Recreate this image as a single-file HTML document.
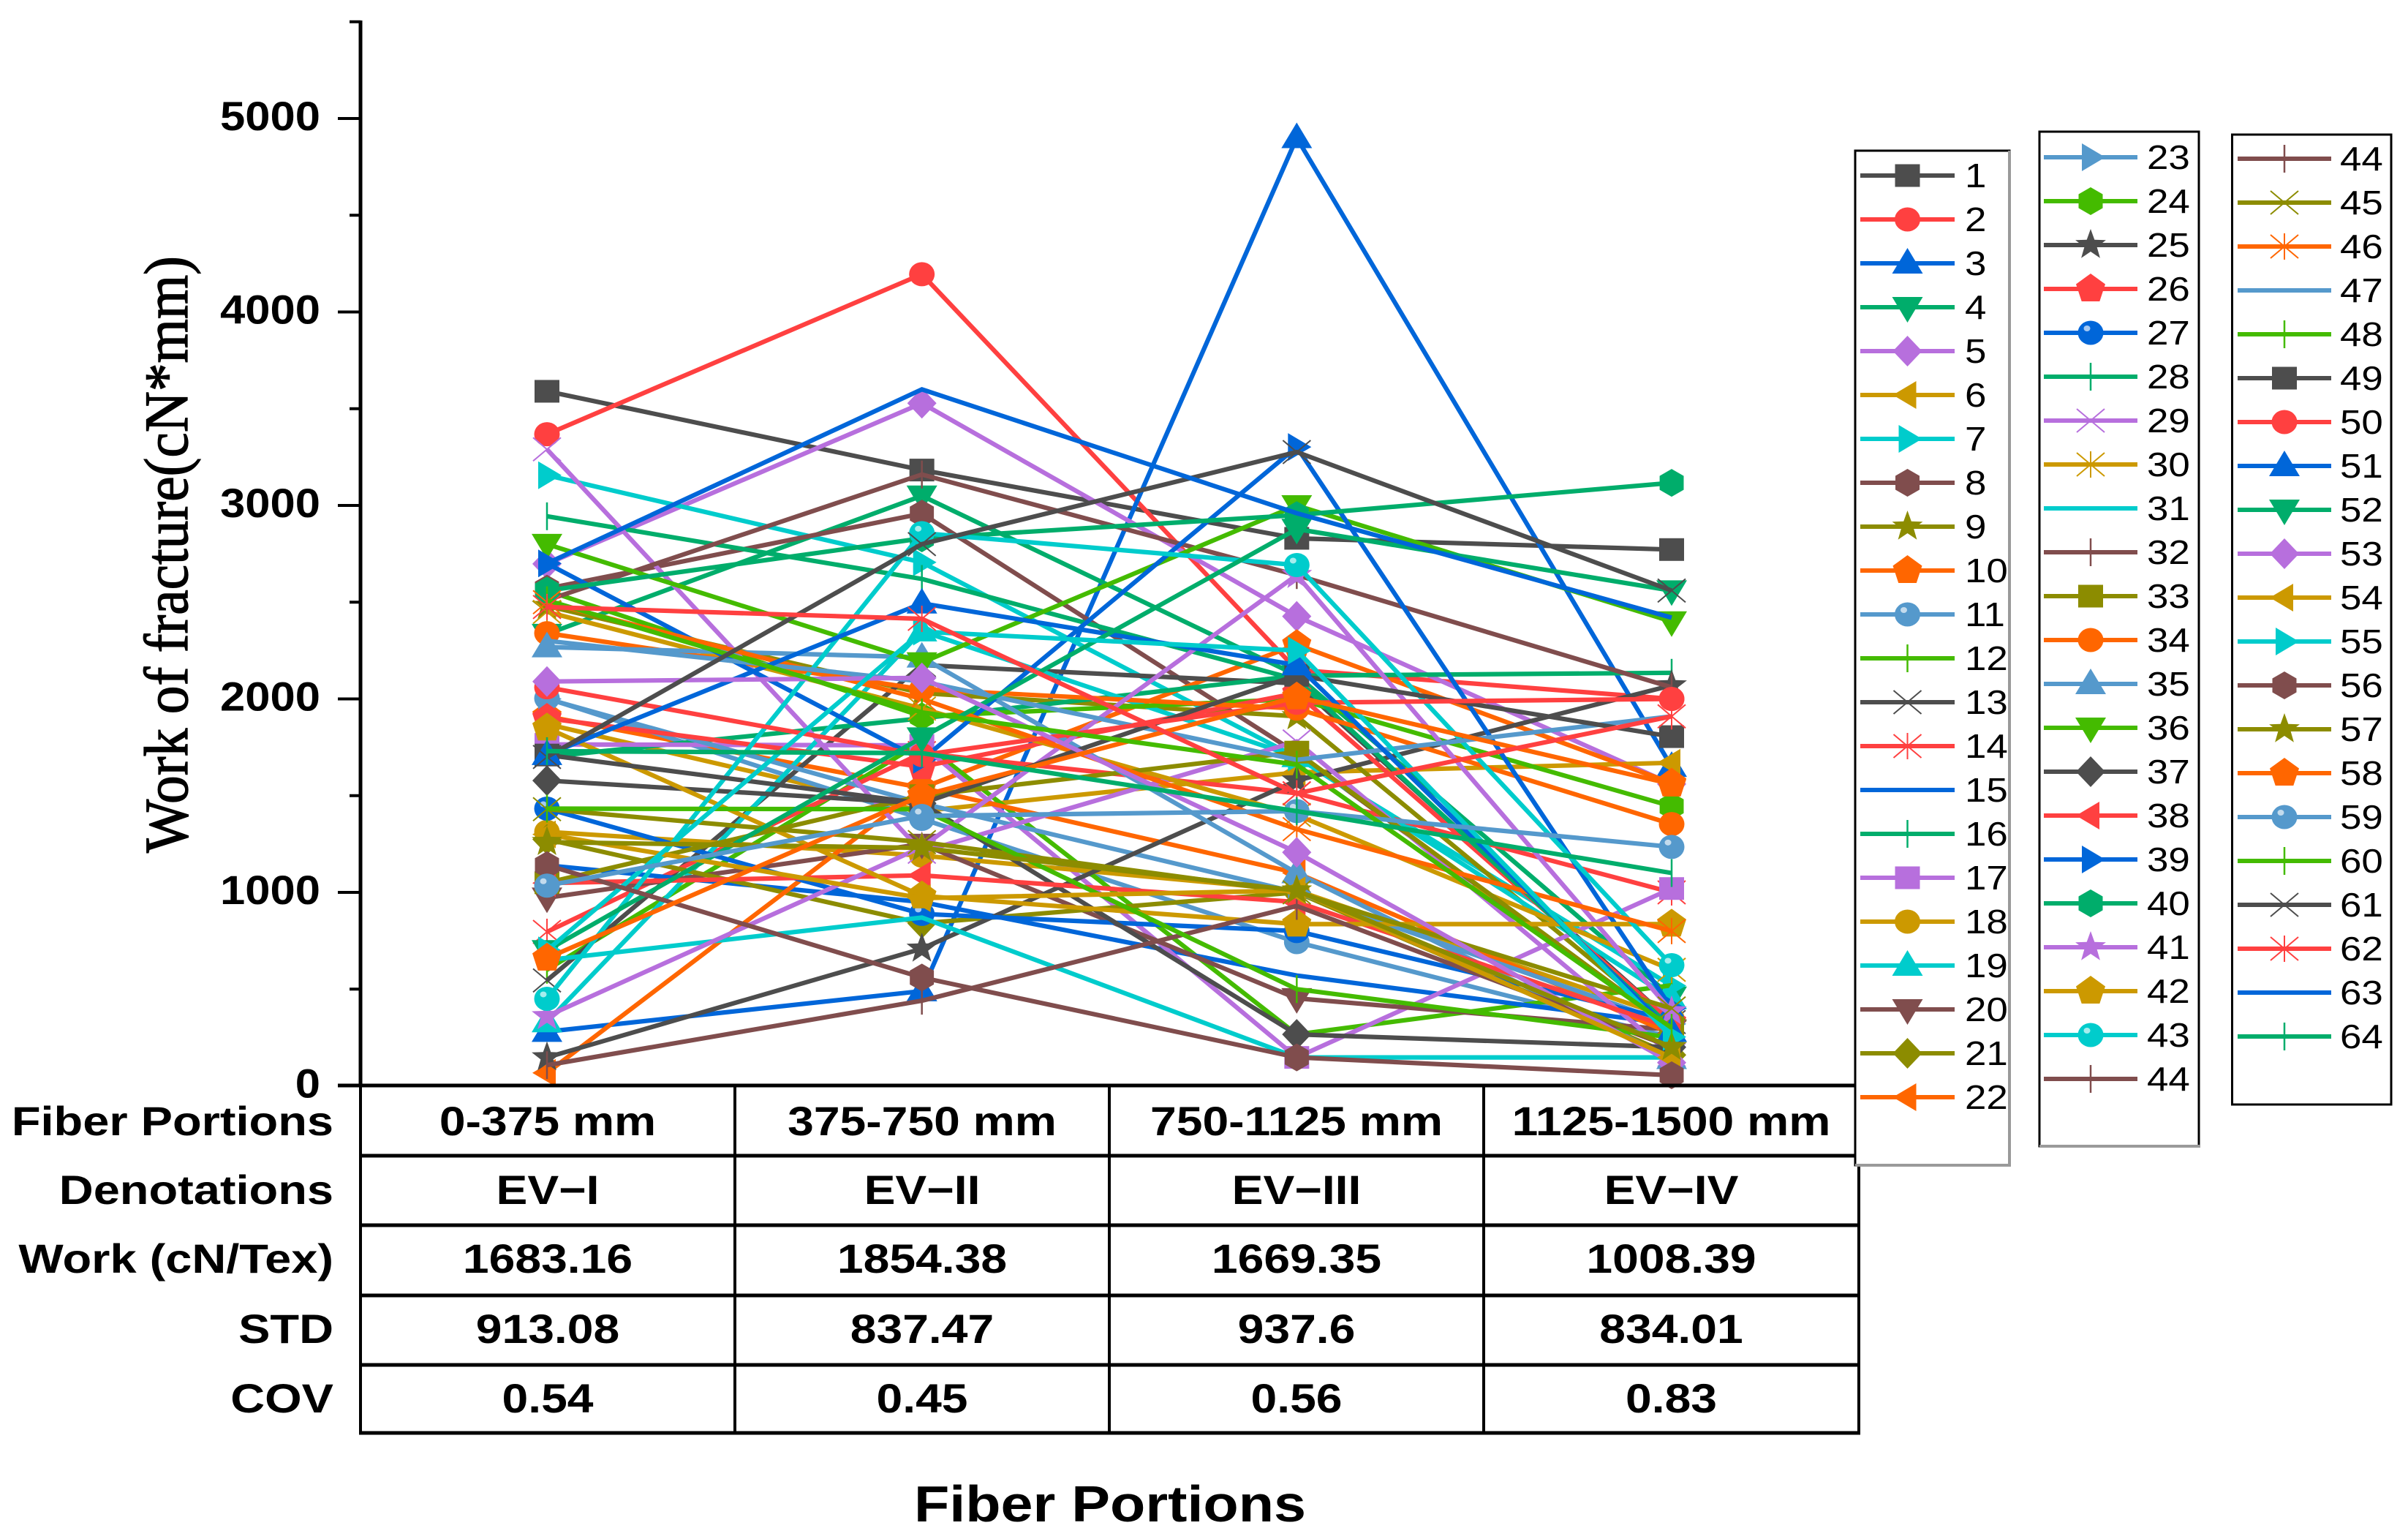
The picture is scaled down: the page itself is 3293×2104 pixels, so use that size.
<!DOCTYPE html>
<html>
<head>
<meta charset="utf-8">
<title>Work of fracture by fiber portion</title>
<style>
html,body{margin:0;padding:0;background:#fff;}
svg{display:block;}
</style>
</head>
<body>
<svg id="chart" xmlns="http://www.w3.org/2000/svg" width="3293" height="2104" viewBox="0 0 3293 2104">
<rect x="0" y="0" width="3293" height="2104" fill="#ffffff"/>
</svg>
<script>
const categories = ['0-375 mm', '375-750 mm', '750-1125 mm', '1125-1500 mm'];
const denotations = ['EV\u2212I', 'EV\u2212II', 'EV\u2212III', 'EV\u2212IV'];
const workValues = ['1683.16', '1854.38', '1669.35', '1008.39'];
const stdValues = ['913.08', '837.47', '937.6', '834.01'];
const covValues = ['0.54', '0.45', '0.56', '0.83'];
const rowLabels = ['Fiber Portions', 'Denotations', 'Work (cN/Tex)', 'STD', 'COV'];
const majorTicks = [0, 1000, 2000, 3000, 4000, 5000];
const minorTicks = [500, 1500, 2500, 3500, 4500, 5500];

const s1 = [3590, 3183, 2830, 2772];
const s2 = [3368, 4195, 2150, 2000];
const s3 = [280, 490, 4900, 1650];
const s4 = [2335, 3050, 2122, 460];
const s5 = [2698, 3528, 2427, 1560];
const s6 = [1870, 1420, 1620, 1670];
const s7 = [3156, 2706, 1698, 518];
const s8 = [2570, 2958, 1720, 300];
const s9 = [2480, 2030, 1910, 310];
const s10 = [1910, 1540, 2281, 1565];
const s11 = [2003, 1380, 743, 250];
const s12 = [600, 1778, 266, 520];
const s13 = [545, 2175, 2080, 330];
const s14 = [796, 1720, 1512, 1000];
const s15 = [1140, 950, 570, 320];
const s16 = [1700, 1900, 2120, 2135];
const s17 = [1765, 1760, 147, 1020];
const s18 = [1313, 1190, 1010, 350];
const s19 = [330, 2350, 1700, 450];
const s20 = [972, 1250, 452, 290];
const s21 = [1274, 840, 1000, 160];
const s22 = [67, 1540, 1100, 270];
const s23 = [2000, 1460, 1000, 320];
const s24 = [2560, 1910, 2000, 1445];
const s25 = [147, 709, 1578, 2070];
const s26 = [1900, 1650, 2030, 330];
const s27 = [1433, 889, 800, 340];
const s28 = [2944, 2620, 2100, 300];
const s29 = [3290, 1210, 1780, 160];
const s30 = [2450, 1950, 1400, 600];
const s31 = [650, 870, 147, 147];
const s32 = [2510, 3160, 2640, 2060];
const s33 = [1050, 1500, 1725, 300];
const s34 = [2340, 2050, 1950, 1353];
const s35 = [2268, 2215, 1100, 140];
const s36 = [2800, 2188, 3000, 2400];
const s37 = [1578, 1460, 266, 200];
const s38 = [1048, 1088, 950, 300];
const s39 = [2700, 1685, 3302, 400];
const s40 = [2560, 2830, 2950, 3117];
const s41 = [360, 1234, 2640, 385];
const s42 = [1850, 982, 836, 836];
const s43 = [450, 2857, 2692, 624];
const s44 = [107, 440, 930, 200];
const s45 = [1430, 1260, 1000, 400];
const s46 = [2500, 2000, 1327, 800];
const s47 = [2300, 2090, 1685, 1910];
const s48 = [1433, 1430, 500, 250];
const s49 = [1710, 1460, 2122, 1805];
const s50 = [2060, 1710, 1980, 2000];
const s51 = [1711, 2494, 2175, 280];
const s52 = [700, 1800, 2878, 2560];
const s53 = [2090, 2109, 1207, 120];
const s54 = [1300, 970, 1010, 147];
const s55 = [700, 2348, 2250, 253];
const s56 = [1141, 560, 147, 55];
const s57 = [1260, 1230, 1010, 200];
const s58 = [660, 1500, 2010, 1560];
const s59 = [1035, 1395, 1420, 1235];
const s60 = [2510, 1930, 1660, 300];
const s61 = [1700, 2800, 3276, 2560];
const s62 = [2475, 2414, 1512, 1910];
const s63 = [2700, 3600, 2960, 2420];
const s64 = [1730, 1720, 1420, 1100];
const allSeries = [s1,s2,s3,s4,s5,s6,s7,s8,s9,s10,s11,s12,s13,s14,s15,s16,s17,s18,s19,s20,s21,s22,s23,s24,s25,s26,s27,s28,s29,s30,s31,s32,s33,s34,s35,s36,s37,s38,s39,s40,s41,s42,s43,s44,s45,s46,s47,s48,s49,s50,s51,s52,s53,s54,s55,s56,s57,s58,s59,s60,s61,s62,s63,s64];

const legendCol1 = [1,2,3,4,5,6,7,8,9,10,11,12,13,14,15,16,17,18,19,20,21,22];
const legendCol2 = [23,24,25,26,27,28,29,30,31,32,33,34,35,36,37,38,39,40,41,42,43,44];
const legendCol3 = [44,45,46,47,48,49,50,51,52,53,54,55,56,57,58,59,60,61,62,63,64];

const palette = ['#4d4d4d','#ff4040','#0066d9','#00ad6b','#b76fdd','#cc9900','#00cccc','#804d4d','#8c8c00','#ff6600','#5599cc','#44bb00'];
const markerCycle = ['square','circle','up','down','diamond','left','right','hexagon','star','pentagon','sphere','bar','x','asterisk','none','bar'];

const NS = 'http://www.w3.org/2000/svg';
const svg = document.getElementById('chart');
function xScale(i){ return 748 + i * 512.67; }
function yScale(v){ return 1484.5 - v * 0.2645; }
function make(tag, parent){ const e = document.createElementNS(NS, tag); parent.appendChild(e); return e; }
function setAll(e, o){ for (const k in o) e.setAttribute(k, o[k]); return e; }
function poly(parent, pts, color){
  const p = make('polygon', parent);
  setAll(p, {points: pts.map(q => q[0].toFixed(1)+','+q[1].toFixed(1)).join(' '), fill: color});
  return p;
}
function radial(cx, cy, r, n, start){
  const pts = [];
  for (let i = 0; i < n; i++){ const a = start + i * 2 * Math.PI / n; pts.push([cx + r*Math.cos(a), cy + r*Math.sin(a)]); }
  return pts;
}
function strokeLine(parent, x1, y1, x2, y2, color, w){
  const l = make('line', parent);
  setAll(l, {x1, y1, x2, y2, stroke: color, 'stroke-width': w});
  return l;
}
function drawMarker(parent, kind, x, y, color){
  if (kind === 'square'){ const r = make('rect', parent); setAll(r, {x: x-17, y: y-15.5, width: 34, height: 31, fill: color}); }
  else if (kind === 'circle'){ const c = make('ellipse', parent); setAll(c, {cx: x, cy: y, rx: 17.5, ry: 16.5, fill: color}); }
  else if (kind === 'up'){ poly(parent, [[x, y-21],[x+21, y+14],[x-21, y+14]], color); }
  else if (kind === 'down'){ poly(parent, [[x, y+21],[x+21, y-14],[x-21, y-14]], color); }
  else if (kind === 'diamond'){ poly(parent, [[x, y-21],[x+20, y],[x, y+21],[x-20, y]], color); }
  else if (kind === 'left'){ poly(parent, [[x-20, y],[x+12, y-19],[x+12, y+19]], color); }
  else if (kind === 'right'){ poly(parent, [[x+20, y],[x-12, y-19],[x-12, y+19]], color); }
  else if (kind === 'hexagon'){ poly(parent, radial(x, y, 19, 6, Math.PI/2), color); }
  else if (kind === 'pentagon'){ poly(parent, radial(x, y, 21, 5, -Math.PI/2), color); }
  else if (kind === 'star'){
    const pts = [];
    for (let i = 0; i < 10; i++){ const r = i % 2 ? 9 : 22; const a = -Math.PI/2 + i*Math.PI/5; pts.push([x + r*Math.cos(a), y + r*Math.sin(a)]); }
    poly(parent, pts, color);
  }
  else if (kind === 'sphere'){
    const c = make('ellipse', parent); setAll(c, {cx: x, cy: y, rx: 17.5, ry: 16.5, fill: color});
    const h = make('ellipse', parent); setAll(h, {cx: x-5, cy: y-6, rx: 4.5, ry: 4, fill: '#ffffff', opacity: 0.65});
  }
  else if (kind === 'bar'){ strokeLine(parent, x, y-19, x, y+19, color, 2.5); }
  else if (kind === 'x' || kind === 'asterisk'){
    strokeLine(parent, x-19, y-16, x+19, y+16, color, 2);
    strokeLine(parent, x-19, y+16, x+19, y-16, color, 2);
    if (kind === 'asterisk') strokeLine(parent, x, y-18, x, y+18, color, 2);
  }
}
function addText(parent, str, x, y, size, weight, anchor, sx, family){
  const t = make('text', parent);
  setAll(t, {transform: 'translate('+x+','+y+') scale('+sx+',1)', 'font-size': size, 'font-weight': weight, 'text-anchor': anchor, 'font-family': family, fill: '#000000'});
  t.textContent = str;
  return t;
}
const SANS = '"Liberation Sans", sans-serif';
const SERIF = '"Liberation Serif", serif';

/* y axis */
const axisGroup = make('g', svg);


const axisLine = strokeLine(axisGroup, 493, 28, 493, 1486, '#000000', 5);


majorTicks.forEach(function(v){
  const tick = strokeLine(axisGroup, 462, yScale(v), 493, yScale(v), '#000000', 4);
  
  
  const lab = addText(axisGroup, String(v), 438, yScale(v) + 16, 56, 'bold', 'end', 1.1, SANS);
  
  
});
minorTicks.forEach(function(v){
  const tick = strokeLine(axisGroup, 478, yScale(v), 493, yScale(v), '#000000', 4);
  
  
});
const yTitle = make('text', svg);
setAll(yTitle, {transform: 'translate(256,758) rotate(-90) scale(1,1.1)', 'font-size': 77, 'text-anchor': 'middle', 'font-family': SERIF, fill: '#000000', stroke: '#000000', 'stroke-width': 1.2, textLength: 816, lengthAdjust: 'spacingAndGlyphs'});
yTitle.textContent = 'Work of fracture(cN*mm)';



/* series */
const plot = make('g', svg);


allSeries.forEach(function(values, idx){
  const color = palette[idx % palette.length];
  const kind = markerCycle[idx % markerCycle.length];
  const g = make('g', plot);
  
  
  const line = make('polyline', g);
  setAll(line, {points: values.map(function(v, i){ return xScale(i).toFixed(1) + ',' + yScale(v).toFixed(1); }).join(' '), fill: 'none', stroke: color, 'stroke-width': 6.2, 'stroke-linejoin': 'miter'});
  
  
  values.forEach(function(v, i){
    const m = make('g', g);
    
    
    drawMarker(m, kind, xScale(i), yScale(v), color);
  });
});

/* data table */
const table = make('g', svg);


const rowLines = [1484, 1580, 1675, 1771, 1866, 1959];
const colLines = [493, 1005, 1517, 2029, 2542];
rowLines.forEach(function(y){
  const l = strokeLine(table, y === 1484 ? 462 : 491, y, 2544, y, '#000000', 5);
  
  
});
colLines.forEach(function(x){
  const l = strokeLine(table, x, 1484, x, 1961, '#000000', 4);
  
  
});
const rowBaselines = [1552, 1646, 1740, 1836, 1931];
rowLabels.forEach(function(s, i){
  const t = addText(table, s, 456, rowBaselines[i], 56, 'bold', 'end', 1.16, SANS);
  
  
});
[categories, denotations, workValues, stdValues, covValues].forEach(function(row, r){
  row.forEach(function(s, c){
    const t = addText(table, s, (colLines[c] + colLines[c + 1]) / 2, rowBaselines[r], 56, 'bold', 'middle', 1.147, SANS);
    
    
  });
});
const xTitle = addText(svg, 'Fiber Portions', 1518, 2080, 70, 'bold', 'middle', 1.13, SANS);



/* legends */
function drawLegend(labels, left, right, top, bottom, firstY, lineX1, lineX2, textX, shadow){
  const g = make('g', svg);
  
  
  const box = make('rect', g);
  setAll(box, {x: left, y: top, width: right - left, height: bottom - top, fill: '#ffffff', stroke: '#000000', 'stroke-width': 3});
  
  
  if (shadow >= 1){
    const b = strokeLine(g, left, bottom, right + 2, bottom, '#9a9a9a', 4);
    
    
  }
  if (shadow >= 2){
    const r = strokeLine(g, right, top, right, bottom, '#9a9a9a', 4);
    
    
  }
  labels.forEach(function(n, i){
    const y = firstY + i * 60;
    const idx = n - 1;
    const color = palette[idx % palette.length];
    const kind = markerCycle[idx % markerCycle.length];
    const entry = make('g', g);
    
    
    strokeLine(entry, lineX1, y, lineX2, y, color, 6);
    drawMarker(entry, kind, (lineX1 + lineX2) / 2, y, color);
    addText(entry, String(n), textX, y + 16, 46, 'normal', 'start', 1.15, SANS);
  });
}
drawLegend(legendCol1, 2537, 2748, 206, 1593, 240, 2544, 2673, 2687, 2);
drawLegend(legendCol2, 2789, 3007, 180, 1567, 215, 2795, 2923, 2936, 1);
drawLegend(legendCol3, 3052.5, 3270, 184, 1510, 217, 3060, 3188, 3200, 0);
</script>
</body>
</html>
